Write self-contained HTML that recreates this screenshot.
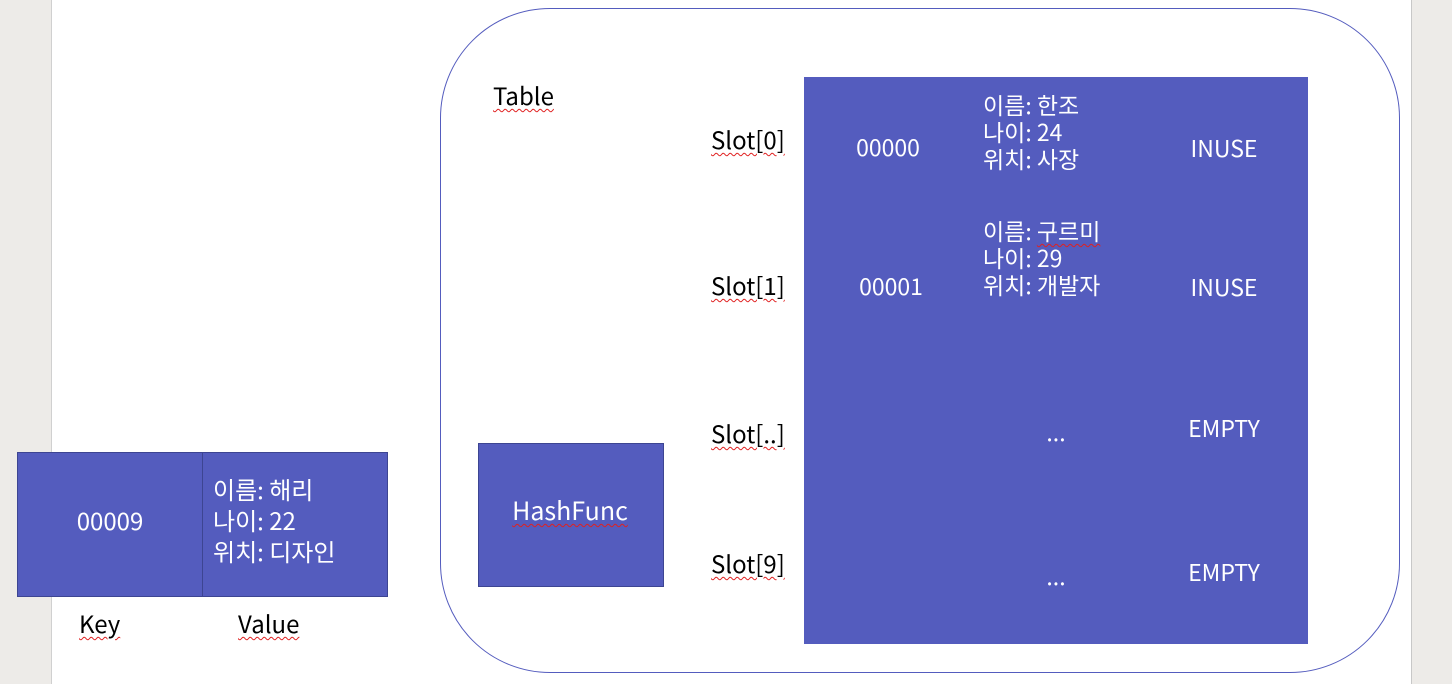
<!DOCTYPE html>
<html><head><meta charset="utf-8"><style>
body{margin:0;width:1452px;height:684px;position:relative;background:#edebe8;overflow:hidden;font-family:"Noto Sans CJK KR","Liberation Sans",sans-serif;}
.page{position:absolute;left:51px;top:0;width:1359px;height:684px;background:#fff;border-left:1px solid #d0d0d0;border-right:1px solid #c8c8c8;}
.t{position:absolute;height:30px;line-height:30px;white-space:nowrap;font-size:23px;}
.c{transform:translateX(-50%);}
.w{color:#fff;}
.blue{position:absolute;background:#545cbe;border:1px solid #3d4592;box-sizing:border-box;}
.sq{text-decoration:underline wavy #e02020;text-decoration-thickness:1px;text-underline-offset:3px;}
</style></head><body>
<div class="page"></div>
<div style="position:absolute;left:440px;top:8px;width:960px;height:665px;border:1px solid #545cbe;border-radius:110px;box-sizing:border-box;"></div>
<div class="blue" style="left:804px;top:77px;width:504px;height:567px;border:none;"></div>
<div class="blue" style="left:17px;top:452px;width:371px;height:145px;"></div>
<div style="position:absolute;left:202px;top:452px;width:1px;height:145px;background:#3d4592;"></div>
<div class="blue" style="left:478px;top:443px;width:186px;height:144px;"></div>

<div class="t sq" style="left:493px;top:80px;font-size:24px;">Table</div>
<div class="t sq" style="left:711px;top:124px;font-size:24px;">Slot[0]</div>
<div class="t sq" style="left:711px;top:270px;font-size:24px;">Slot[1]</div>
<div class="t sq" style="left:711px;top:418px;font-size:24px;">Slot[..]</div>
<div class="t sq" style="left:711px;top:548px;font-size:24px;">Slot[9]</div>

<div class="t w c" style="left:888px;top:131px;">00000</div>
<div class="t w c" style="left:891px;top:270px;">00001</div>
<div class="t w c" style="left:1224px;top:132px;">INUSE</div>
<div class="t w c" style="left:1224px;top:271px;">INUSE</div>
<div class="t w c" style="left:1224px;top:412px;">EMPTY</div>
<div class="t w c" style="left:1224px;top:556px;">EMPTY</div>
<div class="t w c" style="left:1056px;top:416px;">...</div>
<div class="t w c" style="left:1056px;top:560px;">...</div>

<div class="t w" style="left:983px;top:89px;">이름: 한조</div>
<div class="t w" style="left:983px;top:116px;">나이: 24</div>
<div class="t w" style="left:983px;top:143px;">위치: 사장</div>
<div class="t w" style="left:983px;top:215px;">이름: <span class="sq">구르미</span></div>
<div class="t w" style="left:983px;top:242px;">나이: 29</div>
<div class="t w" style="left:983px;top:269px;">위치: 개발자</div>

<div class="t w c" style="left:110px;top:505px;font-size:24px;">00009</div>
<div class="t w" style="left:213px;top:474px;font-size:24px;">이름: 해리</div>
<div class="t w" style="left:213px;top:505px;font-size:24px;">나이: 22</div>
<div class="t w" style="left:213px;top:536px;font-size:24px;">위치: 디자인</div>

<div class="t w c sq" style="left:570px;top:495px;font-size:25px;">HashFunc</div>
<div class="t sq" style="left:79px;top:608px;font-size:24px;">Key</div>
<div class="t sq" style="left:238px;top:608px;font-size:24px;">Value</div>
</body></html>
